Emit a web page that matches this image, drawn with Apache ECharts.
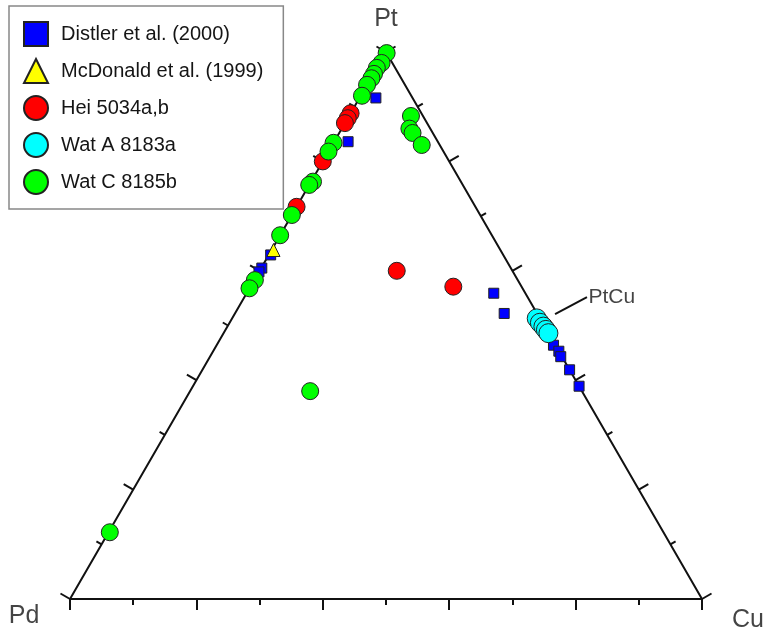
<!DOCTYPE html>
<html>
<head>
<meta charset="utf-8">
<script src="https://cdn.jsdelivr.net/npm/echarts@6/dist/echarts.min.js"></script>
<style>html,body{margin:0;padding:0;background:#fff}#c{width:768px;height:632px}</style>
</head>
<body>
<div id="c"></div>
<script>
// Ternary compositions in percent: [Pt, Pd, Cu]
const vertexLabels = ['Pt', 'Pd', 'Cu'];
const seriesNames = ['Distler et al. (2000)', 'McDonald et al. (1999)', 'Hei 5034a,b', 'Wat A 8183a', 'Wat C 8185b'];
const distler = [[91.6,5.8,2.6],[83.6,14.2,2.2],[62.9,36.8,0.3],[60.5,39.4,0.1],[59.8,40.2,0],[55.9,5.0,39.1],[52.2,5.2,42.6],[46.4,0.3,53.3],[45.3,0,54.7],[44.3,0.2,55.5],[41.9,0,58.1],[38.9,0,61.1]];
const mcdonald = [[63.8,35.9,0.3]];
const hei = [[88.8,11.2,0],[87.9,12.1,0],[87.0,13.0,0],[80.0,20.0,0],[71.7,28.3,0],[60.0,18.3,21.7],[57.1,10.8,32.1]];
const watA = [[51.3,0.5,48.2],[50.5,0.4,49.1],[49.8,0.2,50.0],[49.2,0.1,50.7],[48.6,0,51.4]];
const watC = [[99.8,0,0.2],[98.0,1.7,0.3],[97.1,2.9,0],[96.0,3.9,0.1],[95.2,4.7,0.1],[94.0,6.0,0],[92.0,7.8,0.2],[83.4,16.6,0],[81.8,18.2,0],[76.3,23.4,0.3],[75.7,24.3,0],[70.2,29.8,0],[66.5,33.5,0],[58.3,41.6,0.1],[56.8,43.2,0],[12.2,87.6,0.2],[38.0,43.0,19.0],[88.3,1.9,9.8],[86.0,3.3,10.7],[85.2,3.2,11.6],[83.0,2.85,14.15]];
const tickValues = [0,10,20,30,40,50,60,70,80,90,100];
const ptCuLeader = [[52.1,-2.8,50.7],[55.2,-9.4,54.2]];

const H = Math.sqrt(3) / 2;
function tern(p) { // [Pt, Pd, Cu] -> [x, y]
  const s = p[0] + p[1] + p[2];
  const pt = p[0] / s, cu = p[2] / s;
  return [cu + pt / 2, pt * H];
}
const PX = 632; // pixels per unit side
const LONG = 11 / PX, SHORT = 6 / PX;

const outline = [[0,100,0],[0,0,100],[100,0,0],[0,100,0]].map(tern);

const tickLines = [];
tickValues.forEach(v => {
  const len = (v / 10) % 2 === 0 ? LONG : SHORT;
  const b = tern([0, 100 - v, v]);
  tickLines.push({coords: [b, [b[0], b[1] - len]]});
  const l = tern([v, 100 - v, 0]);
  tickLines.push({coords: [l, [l[0] - 0.866 * len, l[1] + 0.5 * len]]});
  const r = tern([100 - v, 0, v]);
  tickLines.push({coords: [r, [r[0] + 0.866 * len, r[1] + 0.5 * len]]});
});

const font = 'Liberation Sans, Arial, sans-serif';
const txt = '#151515';
const sym = (name, data, symbol, size, color) => ({
  name, type: 'scatter', data: data.map(tern), symbol, symbolSize: size,
  itemStyle: {color, borderColor: '#222', borderWidth: 1, opacity: 1},
  clip: false, z: 5
});

const chart = echarts.init(document.getElementById('c'), null, {renderer: 'canvas'});
chart.setOption({
  animation: false,
  backgroundColor: '#fff',
  grid: {left: 70, right: 66, top: 52, bottom: 33},
  xAxis: {type: 'value', min: 0, max: 1, show: false},
  yAxis: {type: 'value', min: 0, max: H, show: false},
  legend: {
    orient: 'vertical', left: 9, top: 6,
    padding: [15, 20, 14, 14], itemGap: 11, itemWidth: 24, itemHeight: 24,
    borderColor: '#888', borderWidth: 1.5, backgroundColor: '#fff',
    textStyle: {fontSize: 20, color: txt, fontFamily: font, padding: [0, 0, 0, 8]},
    data: seriesNames
  },
  series: [
    {type: 'line', data: outline, symbol: 'none', lineStyle: {color: '#111', width: 2}, clip: false, silent: true, z: 2},
    {type: 'lines', coordinateSystem: 'cartesian2d', data: tickLines, lineStyle: {color: '#111', width: 2, opacity: 1}, clip: false, silent: true, z: 2},
    {type: 'lines', coordinateSystem: 'cartesian2d', data: [{coords: ptCuLeader.map(tern)}], lineStyle: {color: '#111', width: 2, opacity: 1}, clip: false, silent: true, z: 2},
    {type: 'scatter', data: [tern(ptCuLeader[1])], symbolSize: 1, itemStyle: {color: 'transparent'}, clip: false, silent: true,
      label: {show: true, position: 'right', distance: 1, formatter: 'PtCu', fontSize: 21, color: txt, fontFamily: font}},
    {type: 'scatter', clip: false, silent: true, symbolSize: 1, itemStyle: {color: 'transparent'},
      data: [
        {value: tern([100,0,0]), label: {formatter: vertexLabels[0], offset: [0, -33]}},
        {value: tern([0,100,0]), label: {formatter: vertexLabels[1], offset: [-46, 17]}},
        {value: tern([0,0,100]), label: {formatter: vertexLabels[2], offset: [46, 21]}}
      ],
      label: {show: true, position: 'inside', fontSize: 25, color: txt, fontFamily: font}},
    sym(seriesNames[0], distler, 'rect', 10, '#0000ff'),
    sym(seriesNames[1], mcdonald, 'triangle', 13, '#ffff00'),
    sym(seriesNames[2], hei, 'circle', 17, '#ff0000'),
    sym(seriesNames[3], watA, 'circle', 19, '#00ffff'),
    sym(seriesNames[4], watC, 'circle', 17, '#00ff00')
  ]
});
</script>
</body>
</html>
